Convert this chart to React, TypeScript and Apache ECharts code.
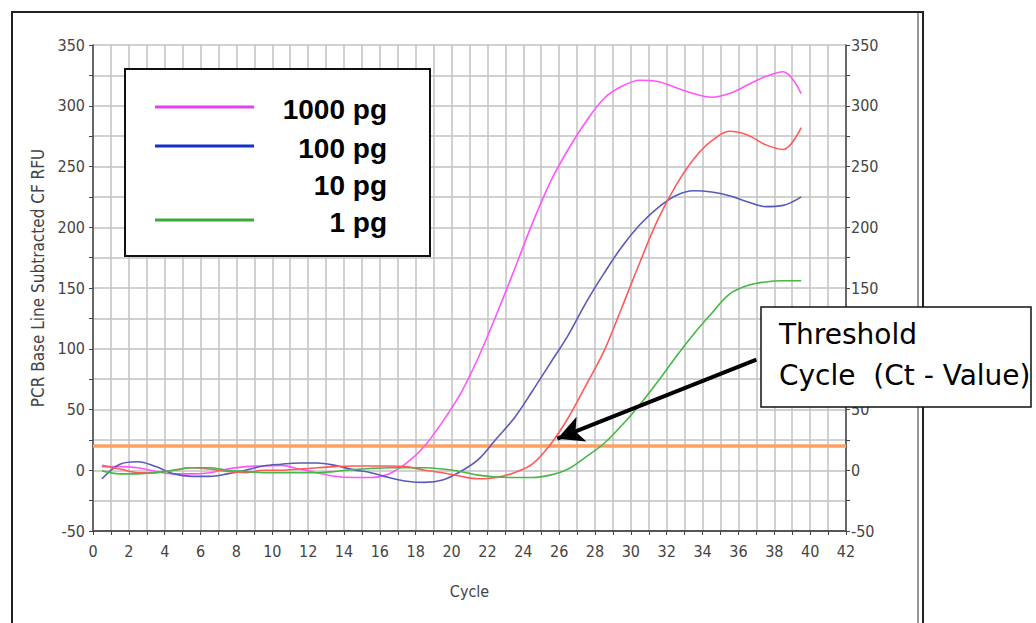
import React, { useEffect, useRef } from "react";
import * as echarts from "echarts";

// Cycle positions of the plotted readings
const cycles = [
  0.5, 1.5, 2.5, 3.5, 4.5, 5.5, 6.5, 7.5, 8.5, 9.5,
  10.5, 11.5, 12.5, 13.5, 14.5, 15.5, 16.5, 17.5, 18.5, 19.5,
  20.5, 21.5, 22.5, 23.5, 24.5, 25.5, 26.5, 27.5, 28.5, 29.5,
  30.5, 31.5, 32.5, 33.5, 34.5, 35.5, 36.5, 37.5, 38.5, 39.5,
];

const seriesNames = ["1000 pg", "100 pg", "10 pg", "1 pg"];

const rfu1000 = [
  3, 3, 2, -1, -3, -3, -2, 1, 3, 3.5,
  4, 1, -2, -5, -6, -6, -3, 6, 20, 40,
  63, 93, 128, 165, 203, 237, 264, 287, 306, 316,
  321, 320, 315, 310, 307, 310, 317, 324, 328, 310,
];
const rfu100 = [
  -7, 5, 7, 3, -3, -5, -5, -3, 0, 3.5,
  5, 6, 6, 4, 0.5, -2, -6, -9, -10, -8,
  -1, 9, 26, 43, 65, 88, 111, 138, 162, 184,
  202, 216, 226, 230, 229, 226, 221, 217, 218, 225,
];
const rfu10 = [
  4, 1, -2, -2, 0, 2, 1, -1, -2, 0,
  0, 1, 2, 3, 3.5, 3.5, 3.5, 3, 0, -2,
  -5, -7, -6, -2, 5, 21, 43, 70, 98, 134,
  171, 206, 234, 256, 271, 279, 276, 268, 264, 282,
];
const rfu1 = [
  -0.5, -3, -3, -2, 0, 2, 2, 0, -1, -2,
  -2, -2, -2, -1, 0.5, 1.5, 2, 2, 2, 1,
  -1, -4, -5.5, -6, -6, -4, 1, 11, 22, 37,
  54, 73, 93, 112, 129, 145, 152, 155, 156, 156,
];

const thresholdRFU = 20;
// Arrow from the annotation box to the Ct crossing (cycle, RFU)
const arrowFrom = [37.0, 91];
const arrowTo = [25.9, 26];

const annotationLines = ["Threshold", "Cycle  (Ct - Value)"];
// right-axis labels hidden behind the annotation box in the reference
const hiddenRightLabels = [100];

const lineColors = ["#ff55ff", "#5a5ab8", "#ff5a5a", "#45b845"];
const legendColors = ["#e040f0", "#1030cc", "#ffffff", "#3aaa3a"];

const tickFont = "'Liberation Sans Narrow', 'DejaVu Sans Condensed', 'Liberation Sans', sans-serif";

export default function App() {
  const ref = useRef<HTMLDivElement>(null);

  useEffect(() => {
    if (!ref.current) return;
    const chart = echarts.init(ref.current, undefined, { renderer: "svg" });
    const values = [rfu1000, rfu100, rfu10, rfu1];

    const series: any[] = values.map((vals, i) => ({
      name: seriesNames[i],
      type: "line",
      data: cycles.map((c, k) => [c, vals[k]]),
      smooth: 0.35,
      showSymbol: false,
      symbol: "none",
      lineStyle: { color: lineColors[i], width: 1.6 },
      z: 3,
    }));

    series[0].markLine = {
      silent: true,
      symbol: ["none", "none"],
      label: { show: false },
      lineStyle: { color: "#ffa060", width: 3.5, type: "solid" },
      data: [{ yAxis: thresholdRFU }],
      z: 2,
    };
    series[1].markLine = {
      silent: true,
      symbol: ["none", "arrow"],
      symbolSize: [20, 26],
      label: { show: false },
      lineStyle: { color: "#000", width: 4, type: "solid" },
      data: [[{ coord: arrowFrom }, { coord: arrowTo }]],
      z: 10,
    };

    const yAxisBase = {
      type: "value",
      min: -50,
      max: 350,
      interval: 25,
      axisLine: { show: true, lineStyle: { color: "#444", width: 1.5 } },
      axisTick: { show: true, length: 4, lineStyle: { color: "#444" } },
      axisLabel: {
        color: "#444",
        fontSize: 16,
        fontFamily: tickFont,
        formatter: (v: number) => (v % 50 === 0 ? String(v) : ""),
      },
    };

    const legendItems: any[] = [];
    const rowsY = [107, 146, 183, 220];
    seriesNames.forEach((n, i) => {
      legendItems.push({
        type: "line",
        shape: { x1: 155, y1: rowsY[i], x2: 254, y2: rowsY[i] },
        style: { stroke: legendColors[i], lineWidth: 3 },
        z: 101,
      });
      legendItems.push({
        type: "text",
        x: 387,
        y: rowsY[i] + 2,
        style: {
          text: n,
          fill: "#000",
          font: "bold 28px 'Liberation Sans', Arial, sans-serif",
          textAlign: "right",
          textVerticalAlign: "middle",
        },
        z: 101,
      });
    });

    chart.setOption({
      animation: false,
      backgroundColor: "#fff",
      grid: {
        left: 93,
        right: 190,
        top: 45,
        bottom: 92,
        containLabel: false,
        outerBoundsMode: "none",
      },
      xAxis: {
        type: "value",
        min: 0,
        max: 42,
        interval: 1,
        name: "Cycle",
        nameLocation: "middle",
        nameGap: 52,
        nameTextStyle: { color: "#444", fontSize: 16, fontFamily: tickFont },
        axisLine: { onZero: false, lineStyle: { color: "#555", width: 2 } },
        axisTick: { show: true, length: 4, lineStyle: { color: "#444" } },
        axisLabel: {
          color: "#444",
          fontSize: 16,
          margin: 12,
          fontFamily: tickFont,
          formatter: (v: number) => (v % 2 === 0 ? String(v) : ""),
        },
        splitLine: { show: true, lineStyle: { color: "#c2c2c2", width: 1.5 } },
      },
      yAxis: [
        {
          ...yAxisBase,
          position: "left",
          axisLabel: { ...yAxisBase.axisLabel, margin: 8 },
          splitLine: { show: true, lineStyle: { color: "#c2c2c2", width: 1.5 } },
        },
        {
          ...yAxisBase,
          position: "right",
          axisLabel: {
            ...yAxisBase.axisLabel,
            margin: 5,
            formatter: (v: number) =>
              v % 50 === 0 && !hiddenRightLabels.includes(v) ? String(v) : "",
          },
          splitLine: { show: false },
        },
      ],
      series,
      graphic: [
        {
          type: "rect",
          shape: { x: 12, y: 12, width: 911, height: 700 },
          style: { fill: "none", stroke: "#222", lineWidth: 2 },
          silent: true,
          z: 50,
        },
        {
          type: "line",
          shape: { x1: 918, y1: 13, x2: 918, y2: 623 },
          style: { stroke: "#999", lineWidth: 2 },
          silent: true,
          z: 50,
        },
        {
          type: "text",
          x: 38,
          y: 278,
          rotation: Math.PI / 2,
          style: {
            text: "PCR Base Line Subtracted CF RFU",
            fill: "#444",
            font: "17px 'DejaVu Sans Condensed', 'DejaVu Sans', sans-serif",
            textAlign: "center",
            textVerticalAlign: "middle",
          },
          z: 50,
        },
        {
          type: "rect",
          shape: { x: 125, y: 69, width: 305, height: 187 },
          style: { fill: "#fff", stroke: "#111", lineWidth: 2 },
          z: 100,
        },
        ...legendItems,
        {
          type: "rect",
          shape: { x: 761, y: 307, width: 270, height: 100 },
          style: { fill: "#fff", stroke: "#111", lineWidth: 1.5 },
          z: 100,
        },
        {
          type: "text",
          x: 779,
          y: 334,
          style: {
            text: annotationLines[0],
            fill: "#000",
            font: "28px 'DejaVu Sans', sans-serif",
            textVerticalAlign: "middle",
          },
          z: 101,
        },
        {
          type: "text",
          x: 779,
          y: 375,
          style: {
            text: annotationLines[1],
            fill: "#000",
            font: "28px 'DejaVu Sans', sans-serif",
            textVerticalAlign: "middle",
          },
          z: 101,
        },
      ],
    });

    return () => chart.dispose();
  }, []);

  return (
    <div
      ref={ref}
      style={{ position: "fixed", left: 0, top: 0, width: 1036, height: 623, background: "#fff" }}
    />
  );
}
